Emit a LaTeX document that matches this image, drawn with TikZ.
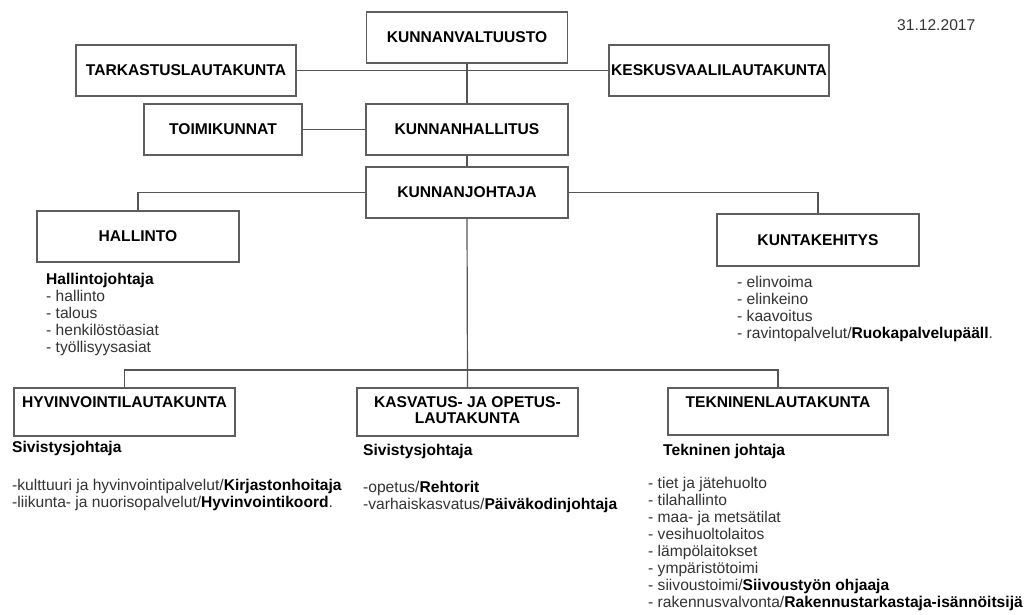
\documentclass[tikz,border=0pt]{standalone}
\usepackage{fontspec}
\setmainfont{Liberation Sans}
\definecolor{boxgray}{HTML}{5E5E5E}
\definecolor{linkgray}{HTML}{555555}
\definecolor{bodytext}{HTML}{333333}
\newcommand{\bld}[1]{{\bfseries\color{black}#1}}
\begin{document}
\begin{tikzpicture}[x=1pt,y=-1pt,
  orgbox/.style={draw=boxgray,line width=1.2pt,inner sep=0pt,
    font=\bfseries\fontsize{15.6}{16}\selectfont,align=center,text=black},
  boxtitle/.style={anchor=north,inner sep=0pt,yshift=-9.3pt,
    font=\bfseries\fontsize{15.6}{16}\selectfont,align=center,text=black},
  lnk/.style={draw=linkgray,line width=1.2pt},
  notes/.style={anchor=north west,inner sep=0pt,align=left,text=bodytext,
    font=\fontsize{15.6}{17}\selectfont},
]
\fill[white] (0,0) rectangle (1035,614);
\useasboundingbox (0,0) rectangle (1035,614);

% council level
\node[orgbox,minimum width=201pt,minimum height=51pt] (valt) at (467,37.5) {KUNNANVALTUUSTO};
\node[orgbox,minimum width=220pt,minimum height=51pt] (tark) at (186,70.5) {TARKASTUSLAUTAKUNTA};
\node[orgbox,minimum width=220pt,minimum height=51pt] (kesk) at (719,70.5) {KESKUSVAALILAUTAKUNTA};

% board and manager
\node[orgbox,minimum width=158pt,minimum height=51pt] (toim) at (223,129.5) {TOIMIKUNNAT};
\node[orgbox,minimum width=202pt,minimum height=51pt] (hall) at (467,129.5) {KUNNANHALLITUS};
\node[orgbox,minimum width=202pt,minimum height=51pt] (joht) at (467,192.5) {KUNNANJOHTAJA};

% units under the manager
\node[orgbox,minimum width=202pt,minimum height=51pt] (hallinto) at (138,236.5) {HALLINTO};
\node[orgbox,minimum width=202pt,minimum height=52pt] (kehitys) at (818,240) {KUNTAKEHITYS};

% committees
\node[orgbox,minimum width=221pt,minimum height=48pt,
  label={[boxtitle]north:HYVINVOINTILAUTAKUNTA}] (hyv) at (124.5,412) {};
\node[orgbox,minimum width=221pt,minimum height=48pt,
  label={[boxtitle]north:KASVATUS- JA OPETUS-\\LAUTAKUNTA}] (kasv) at (467.5,412) {};
\node[orgbox,minimum width=220pt,minimum height=47pt,
  label={[boxtitle]north:TEKNINENLAUTAKUNTA}] (tekn) at (778,411.5) {};

% connectors
\coordinate (bus) at (467.5,370);
\draw[lnk] (tark.east) -- (kesk.west);
\draw[lnk] (valt.south) -- (hall.north);
\draw[lnk] (toim.east) -- (hall.west);
\draw[lnk] (hall.south) -- (joht.north);
\draw[lnk] (joht.west) -| (hallinto.north);
\draw[lnk] (joht.east) -| (kehitys.north);
\draw[lnk] (joht.south) -- (kasv.north);
\draw[lnk] (hyv.north) |- (bus) -| (tekn.north);

% date
\node[anchor=base west,inner sep=0pt,text=bodytext,font=\fontsize{15.6}{17}\selectfont] (pvm) at (897,30.7) {31.12.2017};

% descriptions
\node[notes] (hallintoteksti) at (46,272.8) {\bld{Hallintojohtaja}\\- hallinto\\- talous\\- henkilöstöasiat\\- työllisyysasiat};
\node[notes] (kehitysteksti) at (737,275.8) {- elinvoima\\- elinkeino\\- kaavoitus\\- ravintopalvelut/\bld{Ruokapalvelupääll}.};
\node[notes] (hyvteksti) at (12,440.8) {\bld{Sivistysjohtaja}\\[21pt]-kulttuuri ja hyvinvointipalvelut/\bld{Kirjastonhoitaja}\\-liikunta- ja nuorisopalvelut/\bld{Hyvinvointikoord}.};
\node[notes] (kasvteksti) at (363,443.8) {\bld{Sivistysjohtaja}\\[20pt]-opetus/\bld{Rehtorit}\\-varhaiskasvatus/\bld{Päiväkodinjohtaja}};
\node[notes] (teknjohtaja) at (663,443.8) {\bld{Tekninen johtaja}};
\node[notes,font=\fontsize{15.6}{17.1}\selectfont] (teknteksti) at (648,476.6) {- tiet ja jätehuolto\\- tilahallinto\\- maa- ja metsätilat\\- vesihuoltolaitos\\- lämpölaitokset\\- ympäristötoimi\\- siivoustoimi/\bld{Siivoustyön ohjaaja}\\- rakennusvalvonta/\bld{Rakennustarkastaja-isännöitsijä}};
\end{tikzpicture}
\end{document}
